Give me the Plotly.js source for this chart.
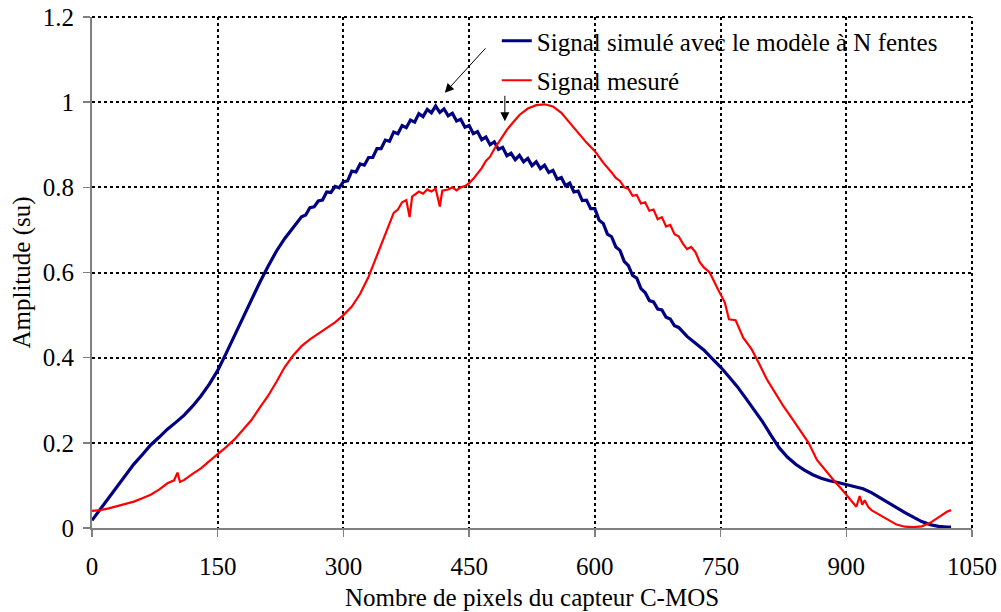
<!DOCTYPE html>
<html>
<head>
<meta charset="utf-8">
<script src="https://cdn.plot.ly/plotly-3.0.1.min.js"></script>
<style>html,body{margin:0;padding:0;background:#fff;}#chart{width:1001px;height:612px;}</style>
</head>
<body>
<div id="chart"></div>
<script>
const seriesNames = ["Signal simulé avec le modèle à N fentes", "Signal mesuré"];
const xTicks = [0, 150, 300, 450, 600, 750, 900, 1050];
const yTicks = [0, 0.2, 0.4, 0.6, 0.8, 1, 1.2];

const simX = [0,10,20,30,40,50,60,70,80,90,100,110,120,130,140,150,160,170,180,190,200,210,220,230,240,
  250,255,260,265,270,275,280,285,290,295,300,305,310,315,320,325,330,335,340,345,350,355,360,365,370,375,380,385,390,395,
  400,405,410,415,420,425,430,435,440,445,450,455,460,465,470,475,480,485,490,495,500,505,510,515,520,525,530,535,540,545,
  550,555,560,565,570,575,580,585,590,595,600,605,610,615,620,625,630,635,640,645,650,655,660,665,670,675,680,685,690,695,700,
  710,720,730,740,750,760,770,780,790,800,810,820,830,840,850,860,870,880,890,900,910,920,930,940,950,960,970,980,990,1000,1010,1020,1025];
const simY = [0.018,0.045,0.07,0.098,0.125,0.15,0.172,0.195,0.213,0.232,0.248,0.265,0.286,0.31,0.338,0.37,0.41,0.452,0.496,0.537,0.576,0.614,0.65,0.68,0.705,
  0.731,0.735,0.752,0.754,0.768,0.770,0.789,0.788,0.802,0.799,0.813,0.815,0.838,0.836,0.855,0.852,0.870,0.870,0.891,0.891,0.911,0.908,0.930,0.926,0.945,0.940,0.958,0.953,0.973,0.966,
  0.983,0.975,0.991,0.976,0.984,0.968,0.974,0.956,0.960,0.941,0.945,0.926,0.931,0.912,0.918,0.900,0.907,0.889,0.894,0.874,0.880,0.865,0.875,0.860,0.868,0.851,0.860,0.844,0.852,0.835,
  0.840,0.819,0.823,0.804,0.810,0.789,0.791,0.769,0.770,0.750,0.750,0.723,0.715,0.690,0.684,0.660,0.652,0.626,0.616,0.593,0.587,0.562,0.553,0.534,0.531,0.514,0.512,0.495,0.491,0.475,0.471,
  0.45,0.435,0.418,0.398,0.378,0.355,0.332,0.305,0.278,0.25,0.218,0.188,0.166,0.149,0.136,0.125,0.117,0.111,0.107,0.102,0.097,0.092,0.083,0.072,0.06,0.048,0.036,0.025,0.015,0.008,0.004,0.002,0.002];

const mesX = [0,10,20,30,40,50,60,70,80,90,98,102,105,110,120,130,140,150,160,170,180,190,200,210,220,230,240,250,260,270,280,290,300,310,320,330,335,340,345,350,355,360,365,370,375,379,382,390,395,400,405,410,415,418,425,430,435,440,445,450,455,460,465,470,475,480,485,490,495,500,510,520,530,540,550,560,570,580,590,600,610,620,625,630,635,640,645,650,655,660,665,670,675,680,685,690,695,700,705,710,715,720,725,730,737,747,755,760,768,777,787,795,805,815,825,835,845,855,865,875,885,895,905,912,916,919,922,926,930,940,950,960,970,980,990,1000,1010,1020,1025];
const mesY = [0.04,0.042,0.046,0.051,0.056,0.062,0.07,0.078,0.09,0.105,0.112,0.13,0.108,0.113,0.127,0.14,0.157,0.173,0.19,0.208,0.23,0.253,0.282,0.31,0.343,0.378,0.405,0.427,0.443,0.456,0.468,0.483,0.5,0.52,0.55,0.59,0.615,0.64,0.665,0.69,0.712,0.74,0.748,0.765,0.77,0.73,0.778,0.79,0.785,0.795,0.79,0.797,0.755,0.792,0.795,0.8,0.793,0.8,0.803,0.81,0.82,0.833,0.845,0.862,0.872,0.89,0.905,0.922,0.935,0.947,0.97,0.985,0.993,0.995,0.99,0.975,0.952,0.93,0.905,0.885,0.858,0.835,0.822,0.815,0.8,0.797,0.78,0.782,0.762,0.765,0.745,0.748,0.725,0.73,0.708,0.712,0.69,0.685,0.668,0.655,0.66,0.648,0.625,0.612,0.6,0.56,0.53,0.49,0.488,0.447,0.42,0.39,0.35,0.318,0.286,0.258,0.23,0.2,0.16,0.135,0.112,0.09,0.065,0.05,0.075,0.055,0.065,0.05,0.042,0.03,0.018,0.008,0.003,0.002,0.004,0.012,0.025,0.038,0.042];

const serif = 'Liberation Serif, Times New Roman, serif';
const gridStyle = {color: '#000000', width: 2, dash: 'dot'};
const fs = 25;

const traces = [
  {x: simX, y: simY, type: 'scatter', mode: 'lines', name: seriesNames[0], legendgroup: 'a',
   line: {color: '#000080', width: 3.2}},
  {x: mesX, y: mesY, type: 'scatter', mode: 'lines', name: seriesNames[1], legendgroup: 'b',
   line: {color: '#FF0000', width: 2.2}}
];

const axisCommon = {
  showgrid: true, gridcolor: '#000000', griddash: 'dot', gridwidth: 2,
  showline: true, linecolor: '#808080', linewidth: 2,
  ticks: 'outside', ticklen: 7, tickcolor: '#808080', tickwidth: 1.5,
  zeroline: false, tickfont: {family: serif, size: fs, color: '#000'}
};

const layout = {
  width: 1001, height: 612,
  margin: {l: 92, r: 29, t: 17, b: 84},
  paper_bgcolor: '#fff', plot_bgcolor: '#fff',
  font: {family: serif, color: '#000'},
  showlegend: true,
  legend: {x: 0.46, y: 0.998, xanchor: 'left', yanchor: 'top', bgcolor: 'rgba(0,0,0,0)',
           font: {family: serif, size: fs, color: '#000'}, traceorder: 'grouped', tracegroupgap: 4},
  xaxis: Object.assign({}, axisCommon, {range: [0, 1050], tickvals: xTicks, ticklabelstandoff: 8,
    title: {text: 'Nombre de pixels du capteur C-MOS', font: {family: serif, size: fs, color: '#000'}, standoff: 9}}),
  yaxis: Object.assign({}, axisCommon, {range: [0, 1.2], tickvals: yTicks, ticklabelstandoff: 4,
    title: {text: 'Amplitude (su)', font: {family: serif, size: fs, color: '#000'}, standoff: 5}}),
  shapes: [
    {type: 'rect', layer: 'between', xref: 'paper', yref: 'y', x0: 0.43, x1: 0.996, y0: 1.004, y1: 1.196,
     fillcolor: '#fff', line: {width: 0}},
    {type: 'line', layer: 'between', xref: 'paper', yref: 'paper', x0: 0, x1: 1, y0: 1, y1: 1, line: gridStyle},
    {type: 'line', layer: 'between', xref: 'paper', yref: 'paper', x0: 1, x1: 1, y0: 0, y1: 1, line: gridStyle}
  ],
  annotations: [
    {xref: 'x', yref: 'y', x: 421, y: 1.022, ax: 42, ay: -46, text: '',
     showarrow: true, arrowhead: 2, arrowsize: 1.8, arrowwidth: 1, arrowcolor: '#000'},
    {xref: 'x', yref: 'y', x: 492.6, y: 0.955, ax: 0, ay: -27, text: '',
     showarrow: true, arrowhead: 2, arrowsize: 1.8, arrowwidth: 1, arrowcolor: '#000'}
  ]
};

Plotly.newPlot('chart', traces, layout, {displayModeBar: false, staticPlot: true});
</script>
</body>
</html>
